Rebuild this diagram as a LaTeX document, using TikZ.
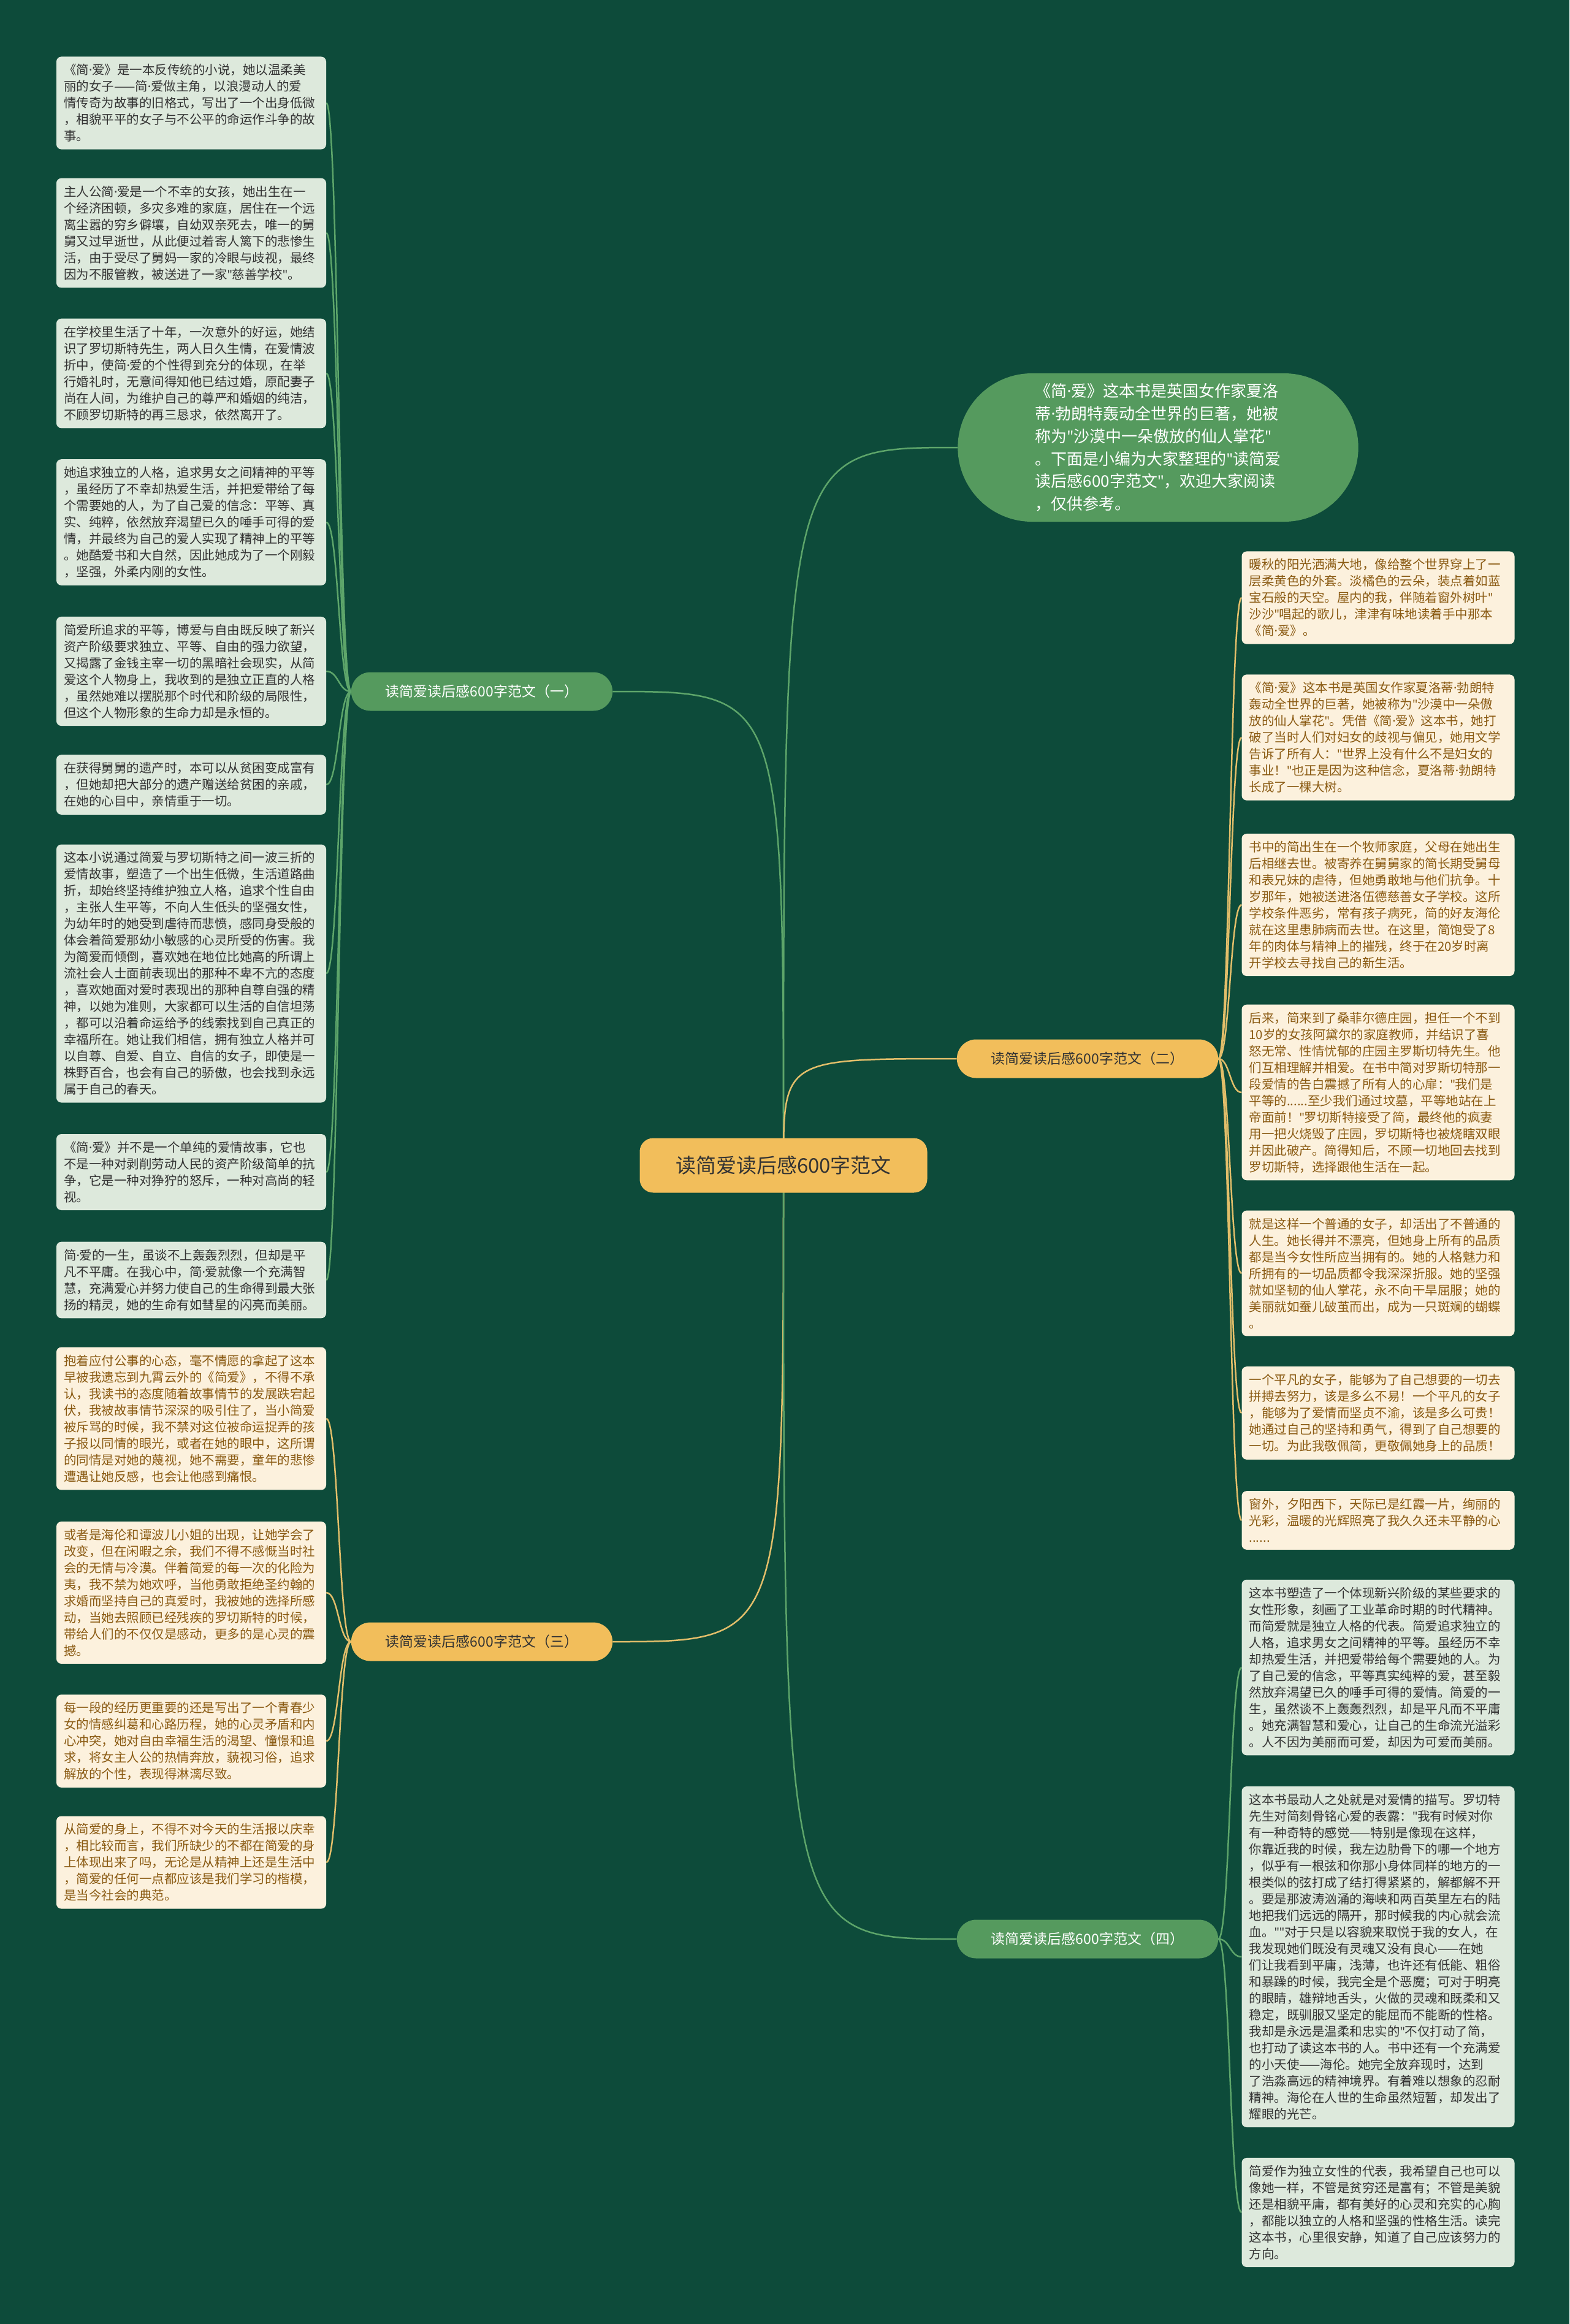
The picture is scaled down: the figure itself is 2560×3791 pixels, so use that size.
\documentclass[tikz,border=0pt]{standalone}
\usepackage{fontspec}
\setmainfont{Noto Sans CJK SC}
\newfontfamily\latinfont{Noto Sans}
\newcommand{\md}{{\latinfont ·}}
\newcommand{\qq}{{\latinfont "}}
\usepackage{tikz}
\usetikzlibrary{calc,positioning,shapes.misc}
\definecolor{bgdark}{HTML}{0D4B3A}
\definecolor{leafgreen}{HTML}{DDE9DC}
\definecolor{leafcream}{HTML}{FCF1DD}
\definecolor{browntext}{HTML}{8A5A12}
\definecolor{darktext}{HTML}{333333}
\definecolor{nodegreen}{HTML}{559A5E}
\definecolor{nodeyellow}{HTML}{F2BE5B}
\definecolor{linkgreen}{HTML}{5DA56A}
\definecolor{linkyellow}{HTML}{E2BE6A}
\pgfdeclarelayer{bg}
\pgfdeclarelayer{links}
\pgfsetlayers{bg,links,main}

\begin{document}
\begin{tikzpicture}[x=1pt,y=-1pt,
    leafG/.style={rectangle, rounded corners=8pt, fill=leafgreen, text=darktext,
      align=left, text width=416pt, inner xsep=12pt, inner ysep=12pt,
      font=\fontsize{20.5}{27}\selectfont},
    leafY/.style={leafG, fill=leafcream, text=browntext},
    leafGR/.style={leafG, text width=421pt},
    leafYR/.style={leafY, text width=421pt},
    branchG/.style={rounded rectangle, fill=nodegreen, text=white,
      minimum width=433pt, minimum height=63pt, font=\fontsize{23}{27}\selectfont},
    branchY/.style={branchG, fill=nodeyellow, text=darktext},
    linkG/.style={draw=linkgreen, line width=2.5pt},
    linkY/.style={draw=linkyellow, line width=2.5pt}]
        % Page and background
        \useasboundingbox (0,0) rectangle (2560,3791);
        \begin{pgfonlayer}{bg}
          \fill[bgdark] (0,0) rectangle (2560,3791);
        \end{pgfonlayer}
        % Root and summary bubble
        \node[rectangle, rounded corners=22pt, fill=nodeyellow, text=darktext,
          minimum width=469pt, minimum height=89pt,
          font=\fontsize{33}{38}\selectfont] (root) at (1278,1901) {读简爱读后感600字范文};
        \node[rounded rectangle, fill=nodegreen, text=white, align=left,
          minimum width=660pt, minimum height=242pt,
          font=\fontsize{26}{36.7}\selectfont] (intro) at (1889,730)
          {《简\md 爱》这本书是英国女作家夏洛\\
           蒂\md 勃朗特轰动全世界的巨著，她被\\
           称为\qq 沙漠中一朵傲放的仙人掌花\qq\\
           。下面是小编为大家整理的\qq 读简爱\\
           读后感600字范文\qq ，欢迎大家阅读\\
           ，仅供参考。};
        % Branches
        \node[branchG] (br1) at (786,1128) {读简爱读后感600字范文（一）};
        \node[branchY] (br2) at (1774,1727) {读简爱读后感600字范文（二）};
        \node[branchY] (br3) at (786,2678) {读简爱读后感600字范文（三）};
        \node[branchG] (br4) at (1774,3163) {读简爱读后感600字范文（四）};
        % Leaves of branch one
        \node[leafG] (a1) at (312,168) {《简\md 爱》是一本反传统的小说，她以温柔美\\丽的女子——简\md 爱做主角，以浪漫动人的爱\\情传奇为故事的旧格式，写出了一个出身低微\\，相貌平平的女子与不公平的命运作斗争的故\\事。};
        \node[leafG] (a2) at (312,380) {主人公简\md 爱是一个不幸的女孩，她出生在一\\个经济困顿，多灾多难的家庭，居住在一个远\\离尘嚣的穷乡僻壤，自幼双亲死去，唯一的舅\\舅又过早逝世，从此便过着寄人篱下的悲惨生\\活，由于受尽了舅妈一家的冷眼与歧视，最终\\因为不服管教，被送进了一家\qq 慈善学校\qq 。};
        \node[leafG] (a3) at (312,609) {在学校里生活了十年，一次意外的好运，她结\\识了罗切斯特先生，两人日久生情，在爱情波\\折中，使简\md 爱的个性得到充分的体现，在举\\行婚礼时，无意间得知他已结过婚，原配妻子\\尚在人间，为维护自己的尊严和婚姻的纯洁，\\不顾罗切斯特的再三恳求，依然离开了。};
        \node[leafG] (a4) at (312,852) {她追求独立的人格，追求男女之间精神的平等\\，虽经历了不幸却热爱生活，并把爱带给了每\\个需要她的人，为了自己爱的信念：平等、真\\实、纯粹，依然放弃渴望已久的唾手可得的爱\\情，并最终为自己的爱人实现了精神上的平等\\。她酷爱书和大自然，因此她成为了一个刚毅\\，坚强，外柔内刚的女性。};
        \node[leafG] (a5) at (312,1095) {简爱所追求的平等，博爱与自由既反映了新兴\\资产阶级要求独立、平等、自由的强力欲望，\\又揭露了金钱主宰一切的黑暗社会现实，从简\\爱这个人物身上，我收到的是独立正直的人格\\，虽然她难以摆脱那个时代和阶级的局限性，\\但这个人物形象的生命力却是永恒的。};
        \node[leafG] (a6) at (312,1280) {在获得舅舅的遗产时，本可以从贫困变成富有\\，但她却把大部分的遗产赠送给贫困的亲戚，\\在她的心目中，亲情重于一切。};
        \node[leafG] (a7) at (312,1588) {这本小说通过简爱与罗切斯特之间一波三折的\\爱情故事，塑造了一个出生低微，生活道路曲\\折，却始终坚持维护独立人格，追求个性自由\\，主张人生平等，不向人生低头的坚强女性，\\为幼年时的她受到虐待而悲愤，感同身受般的\\体会着简爱那幼小敏感的心灵所受的伤害。我\\为简爱而倾倒，喜欢她在地位比她高的所谓上\\流社会人士面前表现出的那种不卑不亢的态度\\，喜欢她面对爱时表现出的那种自尊自强的精\\神，以她为准则，大家都可以生活的自信坦荡\\，都可以沿着命运给予的线索找到自己真正的\\幸福所在。她让我们相信，拥有独立人格并可\\以自尊、自爱、自立、自信的女子，即使是一\\株野百合，也会有自己的骄傲，也会找到永远\\属于自己的春天。};
        \node[leafG] (a8) at (312,1912) {《简\md 爱》并不是一个单纯的爱情故事，它也\\不是一种对剥削劳动人民的资产阶级简单的抗\\争，它是一种对狰狞的怒斥，一种对高尚的轻\\视。};
        \node[leafG] (a9) at (312,2088) {简\md 爱的一生，虽谈不上轰轰烈烈，但却是平\\凡不平庸。在我心中，简\md 爱就像一个充满智\\慧，充满爱心并努力使自己的生命得到最大张\\扬的精灵，她的生命有如彗星的闪亮而美丽。};
        % Leaves of branch three
        \node[leafY] (c1) at (312,2314) {抱着应付公事的心态，毫不情愿的拿起了这本\\早被我遗忘到九霄云外的《简爱》，不得不承\\认，我读书的态度随着故事情节的发展跌宕起\\伏，我被故事情节深深的吸引住了，当小简爱\\被斥骂的时候，我不禁对这位被命运捉弄的孩\\子报以同情的眼光，或者在她的眼中，这所谓\\的同情是对她的蔑视，她不需要，童年的悲惨\\遭遇让她反感，也会让他感到痛恨。};
        \node[leafY] (c2) at (312,2598) {或者是海伦和谭波儿小姐的出现，让她学会了\\改变，但在闲暇之余，我们不得不感慨当时社\\会的无情与冷漠。伴着简爱的每一次的化险为\\夷，我不禁为她欢呼，当他勇敢拒绝圣约翰的\\求婚而坚持自己的真爱时，我被她的选择所感\\动，当她去照顾已经残疾的罗切斯特的时候，\\带给人们的不仅仅是感动，更多的是心灵的震\\撼。};
        \node[leafY] (c3) at (312,2840) {每一段的经历更重要的还是写出了一个青春少\\女的情感纠葛和心路历程，她的心灵矛盾和内\\心冲突，她对自由幸福生活的渴望、憧憬和追\\求，将女主人公的热情奔放，藐视习俗，追求\\解放的个性，表现得淋漓尽致。};
        \node[leafY] (c4) at (312,3038) {从简爱的身上，不得不对今天的生活报以庆幸\\，相比较而言，我们所缺少的不都在简爱的身\\上体现出来了吗，无论是从精神上还是生活中\\，简爱的任何一点都应该是我们学习的楷模，\\是当今社会的典范。};
        % Leaves of branch two
        \node[leafYR] (b1) at (2248,975) {暖秋的阳光洒满大地，像给整个世界穿上了一\\层柔黄色的外套。淡橘色的云朵，装点着如蓝\\宝石般的天空。屋内的我，伴随着窗外树叶\qq\\沙沙\qq 唱起的歌儿，津津有味地读着手中那本\\《简\md 爱》。};
        \node[leafYR] (b2) at (2248,1203) {《简\md 爱》这本书是英国女作家夏洛蒂\md 勃朗特\\轰动全世界的巨著，她被称为\qq 沙漠中一朵傲\\放的仙人掌花\qq 。凭借《简\md 爱》这本书，她打\\破了当时人们对妇女的歧视与偏见，她用文学\\告诉了所有人：\qq 世界上没有什么不是妇女的\\事业！\qq 也正是因为这种信念，夏洛蒂\md 勃朗特\\长成了一棵大树。};
        \node[leafYR] (b3) at (2248,1476) {书中的简出生在一个牧师家庭，父母在她出生\\后相继去世。被寄养在舅舅家的简长期受舅母\\和表兄妹的虐待，但她勇敢地与他们抗争。十\\岁那年，她被送进洛伍德慈善女子学校。这所\\学校条件恶劣，常有孩子病死，简的好友海伦\\就在这里患肺病而去世。在这里，简饱受了8\\年的肉体与精神上的摧残，终于在20岁时离\\开学校去寻找自己的新生活。};
        \node[leafYR] (b4) at (2248,1782) {后来，简来到了桑菲尔德庄园，担任一个不到\\10岁的女孩阿黛尔的家庭教师，并结识了喜\\怒无常、性情忧郁的庄园主罗斯切特先生。他\\们互相理解并相爱。在书中简对罗斯切特那一\\段爱情的告白震撼了所有人的心扉：\qq 我们是\\平等的......至少我们通过坟墓，平等地站在上\\帝面前！\qq 罗切斯特接受了简，最终他的疯妻\\用一把火烧毁了庄园，罗切斯特也被烧瞎双眼\\并因此破产。简得知后，不顾一切地回去找到\\罗切斯特，选择跟他生活在一起。};
        \node[leafYR] (b5) at (2248,2077) {就是这样一个普通的女子，却活出了不普通的\\人生。她长得并不漂亮，但她身上所有的品质\\都是当今女性所应当拥有的。她的人格魅力和\\所拥有的一切品质都令我深深折服。她的坚强\\就如坚韧的仙人掌花，永不向干旱屈服；她的\\美丽就如蚕儿破茧而出，成为一只斑斓的蝴蝶\\。};
        \node[leafYR] (b6) at (2248,2305) {一个平凡的女子，能够为了自己想要的一切去\\拼搏去努力，该是多么不易！一个平凡的女子\\，能够为了爱情而坚贞不渝，该是多么可贵！\\她通过自己的坚持和勇气，得到了自己想要的\\一切。为此我敬佩简，更敬佩她身上的品质！};
        \node[leafYR] (b7) at (2248,2480) {窗外，夕阳西下，天际已是红霞一片，绚丽的\\光彩，温暖的光辉照亮了我久久还未平静的心\\......};
        % Leaves of branch four
        \node[leafGR] (d1) at (2248,2720) {这本书塑造了一个体现新兴阶级的某些要求的\\女性形象，刻画了工业革命时期的时代精神。\\而简爱就是独立人格的代表。简爱追求独立的\\人格，追求男女之间精神的平等。虽经历不幸\\却热爱生活，并把爱带给每个需要她的人。为\\了自己爱的信念，平等真实纯粹的爱，甚至毅\\然放弃渴望已久的唾手可得的爱情。简爱的一\\生，虽然谈不上轰轰烈烈，却是平凡而不平庸\\。她充满智慧和爱心，让自己的生命流光溢彩\\。人不因为美丽而可爱，却因为可爱而美丽。};
        \node[leafGR] (d2) at (2248,3192) {这本书最动人之处就是对爱情的描写。罗切特\\先生对简刻骨铭心爱的表露：\qq 我有时候对你\\有一种奇特的感觉——特别是像现在这样，\\你靠近我的时候，我左边肋骨下的哪一个地方\\，似乎有一根弦和你那小身体同样的地方的一\\根类似的弦打成了结打得紧紧的，解都解不开\\。要是那波涛汹涌的海峡和两百英里左右的陆\\地把我们远远的隔开，那时候我的内心就会流\\血。\qq\qq 对于只是以容貌来取悦于我的女人，在\\我发现她们既没有灵魂又没有良心——在她\\们让我看到平庸，浅薄，也许还有低能、粗俗\\和暴躁的时候，我完全是个恶魔；可对于明亮\\的眼睛，雄辩地舌头，火做的灵魂和既柔和又\\稳定，既驯服又坚定的能屈而不能断的性格。\\我却是永远是温柔和忠实的\qq 不仅打动了简，\\也打动了读这本书的人。书中还有一个充满爱\\的小天使——海伦。她完全放弃现时，达到\\了浩淼高远的精神境界。有着难以想象的忍耐\\精神。海伦在人世的生命虽然短暂，却发出了\\耀眼的光芒。};
        \node[leafGR] (d3) at (2248,3609) {简爱作为独立女性的代表，我希望自己也可以\\像她一样，不管是贫穷还是富有；不管是美貌\\还是相貌平庸，都有美好的心灵和充实的心胸\\，都能以独立的人格和坚强的性格生活。读完\\这本书，心里很安静，知道了自己应该努力的\\方向。};
        % Connectors
        \begin{pgfonlayer}{links}
          \draw[linkG] (root.center) .. controls (root.center |- intro.west) .. (intro.west);
          \draw[linkG] (root.center) .. controls (root.center |- br1.east) .. (br1.east);
          \draw[linkY] (root.center) .. controls (root.center |- br2.west) .. (br2.west);
          \draw[linkY] (root.center) .. controls (root.center |- br3.east) .. (br3.east);
          \draw[linkG] (root.center) .. controls (root.center |- br4.west) .. (br4.west);
          \coordinate (m1) at ($(br1.west)!0.5!(br1.west -| a1.east)$);
          \coordinate (m3) at ($(br3.west)!0.5!(br3.west -| c1.east)$);
          \coordinate (m2) at ($(br2.east)!0.5!(br2.east -| b1.west)$);
          \coordinate (m4) at ($(br4.east)!0.5!(br4.east -| d1.west)$);
          \foreach \n in {1,...,9}
            \draw[linkG] (br1.west) .. controls (m1) and (m1 |- a\n.east) .. (a\n.east);
          \foreach \n in {1,...,4}
            \draw[linkY] (br3.west) .. controls (m3) and (m3 |- c\n.east) .. (c\n.east);
          \foreach \n in {1,...,7}
            \draw[linkY] (br2.east) .. controls (m2) and (m2 |- b\n.west) .. (b\n.west);
          \foreach \n in {1,...,3}
            \draw[linkG] (br4.east) .. controls (m4) and (m4 |- d\n.west) .. (d\n.west);
        \end{pgfonlayer}
      \end{tikzpicture}
\end{document}
